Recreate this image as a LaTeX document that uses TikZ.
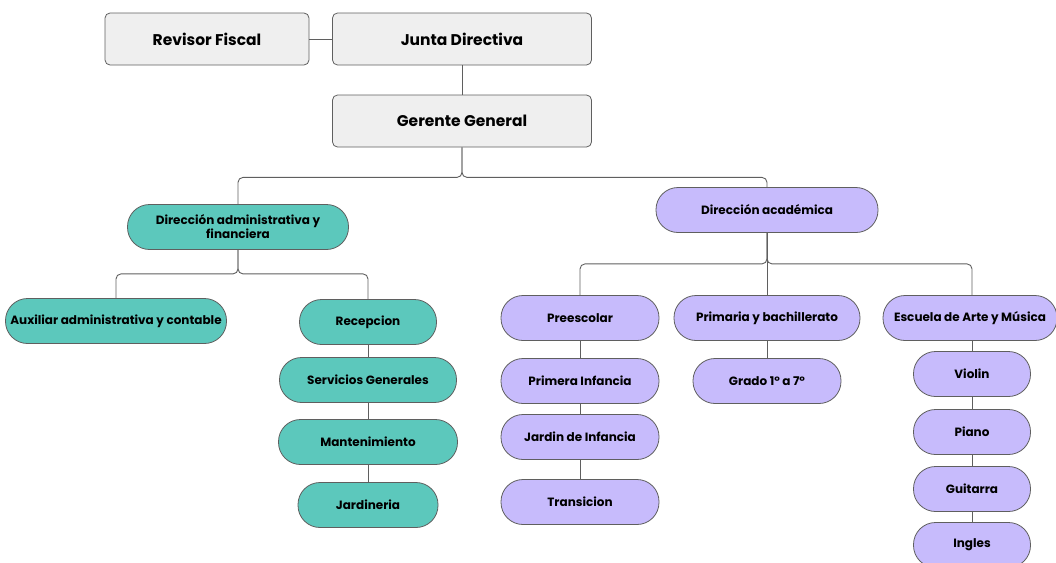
\documentclass[tikz,border=0pt]{standalone}
\usepackage{fontspec}
\setmainfont{Poppins}
\usetikzlibrary{positioning}
\definecolor{linegray}{RGB}{95,95,95}
\definecolor{boxgray}{RGB}{239,239,239}
\definecolor{admteal}{RGB}{92,200,188}
\definecolor{acalilac}{RGB}{199,187,252}
\begin{document}
\begin{tikzpicture}[x=1pt,y=-1pt,
    topbox/.style={draw=linegray,fill=boxgray,rounded corners=5pt,minimum height=52pt,
      line width=0.8pt,font=\bfseries\fontsize{15.5}{18}\selectfont},
    pill/.style={draw=linegray,rounded corners=22pt,minimum height=45pt,line width=0.8pt,
      inner xsep=2pt,align=center,font=\bfseries\fontsize{12}{14}\selectfont},
    adm/.style={pill,fill=admteal},
    aca/.style={pill,fill=acalilac},
    link/.style={draw=linegray,line width=0.9pt,rounded corners=5pt}]
  \useasboundingbox (0,0) rectangle (1056,562);
  \node[topbox,minimum width=204pt] (revisor) at (207,39) {Revisor Fiscal};
  \node[topbox,minimum width=259pt] (junta) at (462,39) {Junta Directiva};
  \node[topbox,minimum width=259pt] (gerente) at (462,121) {Gerente General};
  \node[adm,minimum width=221pt] (diradm) at (238,227) {Dirección administrativa y\\financiera};
  \node[aca,minimum width=222pt] (diraca) at (767,210) {Dirección académica};
  \node[adm,minimum width=221pt] (auxiliar) at (116,321) {Auxiliar administrativa y contable};
  \node[adm,minimum width=137pt] (recepcion) at (368,322) {Recepcion};
  \node[adm,minimum width=177pt] (servicios) at (368,380) {Servicios Generales};
  \node[adm,minimum width=179pt] (mantenimiento) at (368,442) {Mantenimiento};
  \node[adm,minimum width=140pt] (jardineria) at (368,505) {Jardineria};
  \node[aca,minimum width=158pt] (preescolar) at (580,318) {Preescolar};
  \node[aca,minimum width=158pt] (primera) at (580,381) {Primera Infancia};
  \node[aca,minimum width=158pt] (jardin) at (580,437) {Jardin de Infancia};
  \node[aca,minimum width=158pt] (transicion) at (580,502) {Transicion};
  \node[aca,minimum width=186pt] (primaria) at (767,318) {Primaria y bachillerato};
  \node[aca,minimum width=148pt] (grado) at (767,381) {Grado 1° a 7°};
  \node[aca,minimum width=174pt] (escuela) at (970,318) {Escuela de Arte y Música};
  \node[aca,minimum width=117pt] (violin) at (972,374) {Violin};
  \node[aca,minimum width=117pt] (piano) at (972,432) {Piano};
  \node[aca,minimum width=117pt] (guitarra) at (972,489) {Guitarra};
  \node[aca,minimum width=117pt] (ingles) at (972,545) {Ingles};
  \begin{scope}[link]
    \draw (revisor) -- (junta);
    \draw (junta) -- (gerente);
    \draw (gerente.south) -- ++(0,30) -| (diradm.north);
    \draw (gerente.south) -- ++(0,30) -| (diraca.north);
    \draw (diradm.south) -- ++(0,24) -| (auxiliar.north);
    \draw (diradm.south) -- ++(0,24) -| (recepcion.north);
    \draw (recepcion) -- (servicios);
    \draw (servicios) -- (mantenimiento);
    \draw (mantenimiento) -- (jardineria);
    \draw (diraca.south) -- ++(0,31) -| (preescolar.north);
    \draw (diraca) -- (primaria);
    \draw (diraca.south) -- ++(0,31) -| ([xshift=2pt]escuela.north);
    \draw (preescolar) -- (primera);
    \draw (primera) -- (jardin);
    \draw (jardin) -- (transicion);
    \draw (primaria) -- (grado);
    \draw ([xshift=2pt]escuela.south) -- (violin);
    \draw (violin) -- (piano);
    \draw (piano) -- (guitarra);
    \draw (guitarra) -- (ingles);
  \end{scope}
\end{tikzpicture}
\end{document}
